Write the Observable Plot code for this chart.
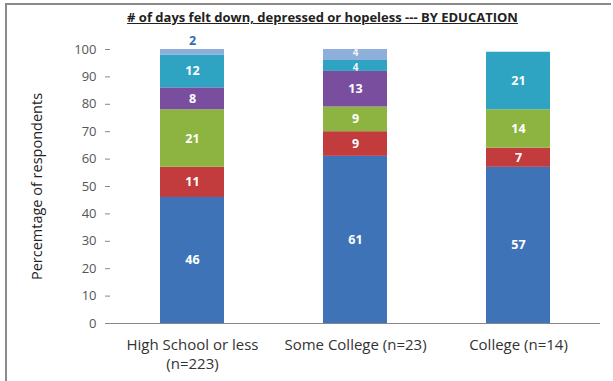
<!DOCTYPE html>
<html>
<head>
<meta charset="utf-8">
<script src="https://cdn.jsdelivr.net/npm/d3@7"></script>
<script src="https://cdn.jsdelivr.net/npm/@observablehq/plot@0.6"></script>
<style>
  html, body { margin: 0; padding: 0; background: #fff; }
  #frame { position: absolute; left: 5px; top: 3px; width: 606px; height: 380px;
           border-left: 2px solid #8a8a8a; border-top: 2px solid #8a8a8a; box-sizing: border-box; }
  #wrap { position: absolute; left: 0; top: 0; width: 613px; height: 381px; font-family: "Open Sans", sans-serif; }
  #title { position: absolute; left: 0; top: 8px; width: 645px; text-align: center;
           font-weight: bold; font-size: 13px; text-decoration: underline; color: #222; }
  #chart { position: absolute; left: 0; top: 30px; }
</style>
</head>
<body>
<div id="frame"></div>
<div id="wrap">
  <div id="title"># of days felt down, depressed or hopeless --- BY EDUCATION</div>
  <div id="chart"></div>
</div>
<script>
const categories = ["High School or less\n(n=223)", "Some College (n=23)", "College (n=14)"];
const seriesNames = ["0 days", "1-2 days", "3-5 days", "6-10 days", "11-20 days", "21-30 days"];
const seriesColors = ["#3f73b8", "#c23b3d", "#8db440", "#7a4e9f", "#2fa3c2", "#8eaedb"];
const highSchool = [46, 11, 21, 8, 12, 2];
const someCollege = [61, 9, 9, 13, 4, 4];
const college = [57, 7, 14, 0, 21, 0];
const yTicks = [0, 10, 20, 30, 40, 50, 60, 70, 80, 90, 100];

const columns = [highSchool, someCollege, college];
const data = [];
categories.forEach((c, i) => {
  seriesNames.forEach((s, j) => {
    if (columns[i][j] > 0) data.push({cat: c, series: s, value: columns[i][j]});
  });
});

const topSeries = seriesNames[seriesNames.length - 1];
const inside = d => d.value >= 3;
const small = d => d.value < 5;
const font = "Open Sans, sans-serif";

const plot = Plot.plot({
  width: 613,
  height: 351,
  marginLeft: 110,
  marginRight: 13,
  marginTop: 19,
  marginBottom: 58,
  style: {fontFamily: font, fontSize: "12px", color: "#555", background: "transparent"},
  x: {domain: categories, paddingInner: 0.61, paddingOuter: 0.305, axis: null},
  y: {domain: [0, 100], ticks: yTicks, axis: null},
  color: {domain: seriesNames, range: seriesColors},
  marks: [
    Plot.barY(data, {x: "cat", y: "value", fill: "series", z: "series"}),
    Plot.text(data, Plot.stackY({
      x: "cat", y: "value", z: "series", text: d => inside(d) && !small(d) ? String(d.value) : null,
      fill: "white", fontWeight: "bold", fontSize: 12.5
    })),
    Plot.text(data, Plot.stackY({
      x: "cat", y: "value", z: "series",
      text: d => inside(d) && small(d) && d.series === topSeries ? String(d.value) : null,
      fill: "#f4f4f4", fontWeight: "bold", fontSize: 10, dy: -2
    })),
    Plot.text(data, Plot.stackY({
      x: "cat", y: "value", z: "series",
      text: d => inside(d) && small(d) && d.series !== topSeries ? String(d.value) : null,
      fill: "#f4f4f4", fontWeight: "bold", fontSize: 10, dy: 2
    })),
    Plot.text(data, Plot.stackY2({
      x: "cat", y: "value", z: "series", text: d => inside(d) ? null : String(d.value),
      fill: "#2f6db5", fontWeight: "bold", fontSize: 12.5, dy: -9
    })),
    Plot.axisY({ticks: yTicks, tickSize: 5, tickPadding: 9, stroke: "#888", label: null, fill: "#555", fontSize: 13}),
    Plot.ruleX([0], {x: () => 0, stroke: "#888"}),
    Plot.ruleY([0], {stroke: "#888"}),
    Plot.axisX({tickSize: 0, tickPadding: 13, label: null, fill: "#333", fontSize: 15, lineHeight: 1.25}),
    Plot.text(["Percemtage of respondents"], {
      frameAnchor: "left", rotate: -90, dx: -73, textAnchor: "middle", fill: "#222", fontSize: 14.5
    })
  ]
});
document.getElementById("chart").appendChild(plot);
</script>
</body>
</html>
